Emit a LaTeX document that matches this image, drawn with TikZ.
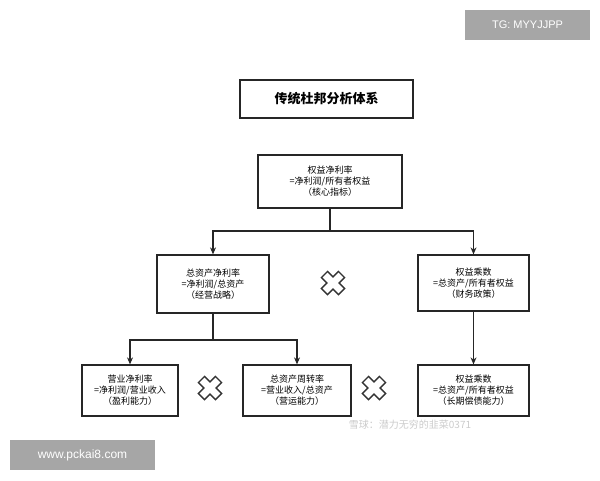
\documentclass[tikz,border=0pt]{standalone}
\usepackage{fontspec}
\setmainfont{Noto Sans CJK SC}
\newfontfamily\latin{Liberation Sans}
\usetikzlibrary{arrows.meta}
\begin{document}
\begin{tikzpicture}[x=1pt,y=-1pt,
  bx/.style={draw=black!85,line width=1.3pt,align=center,font=\fontsize{9}{11}\selectfont,inner sep=0pt},
  ln/.style={line width=1.1pt,black!85},
  ar/.style={ln,-{Stealth[length=7pt,width=6pt]}}]
\useasboundingbox[fill=white] (0,0) rectangle (600,480);
\node[bx,minimum width=173,minimum height=38,font=\fontsize{13}{15}\selectfont\bfseries] (title) at (326.5,99) {传统杜邦分析体系};
\node[bx,minimum width=144,minimum height=53] (top) at (330,181.5) {权益净利率\\=净利润/所有者权益\\（核心指标）};
\node[bx,minimum width=112,minimum height=58] (ml) at (213,284) {总资产净利率\\=净利润/总资产\\（经营战略）};
\node[bx,minimum width=111,minimum height=56] (mr) at (473.5,283) {权益乘数\\=总资产/所有者权益\\（财务政策）};
\node[bx,minimum width=96,minimum height=51] (bl) at (130,390.5) {营业净利率\\=净利润/营业收入\\（盈利能力）};
\node[bx,minimum width=108,minimum height=51] (bm) at (297,390.5) {总资产周转率\\=营业收入/总资产\\（营运能力）};
\node[bx,minimum width=111,minimum height=51] (br) at (473.5,390.5) {权益乘数\\=总资产/所有者权益\\（长期偿债能力）};
\coordinate (j1) at (330,231);
\coordinate (j2) at (213,340);
\draw[ln] (top.south) -- (j1);
\draw[ar] (j1) -| (ml.north);
\draw[ar] (j1) -| (mr.north);
\draw[ln] (ml.south) -- (j2);
\draw[ar] (j2) -| (bl.north);
\draw[ar] (j2) -| (bm.north);
\draw[ar] (mr.south) -- (br.north);
\foreach \n/\x/\y in {xa/333/283, xb/210/388, xc/374/388}{
  \coordinate (\n) at (\x,\y);
  \draw[line width=10pt,black!80] ([shift={(-9,-9)}]\n) -- ([shift={(9,9)}]\n) ([shift={(-9,9)}]\n) -- ([shift={(9,-9)}]\n);
  \draw[line width=7pt,white] ([shift={(-7.9,-7.9)}]\n) -- ([shift={(7.9,7.9)}]\n) ([shift={(-7.9,7.9)}]\n) -- ([shift={(7.9,-7.9)}]\n);
}
\node[fill=black!35,text=white,minimum width=125,minimum height=30,font=\latin\fontsize{11}{13}\selectfont] (tg) at (527.5,25) {TG: MYYJJPP};
\node[fill=black!35,text=white,minimum width=145,minimum height=30,font=\latin\fontsize{12}{14}\selectfont] (www) at (82.5,455) {www.pckai8.com};
\node[text=black!20,font=\fontsize{10}{12}\selectfont] (xq) at (410,425) {雪球：潜力无穷的韭菜0371};
\end{tikzpicture}
\end{document}
